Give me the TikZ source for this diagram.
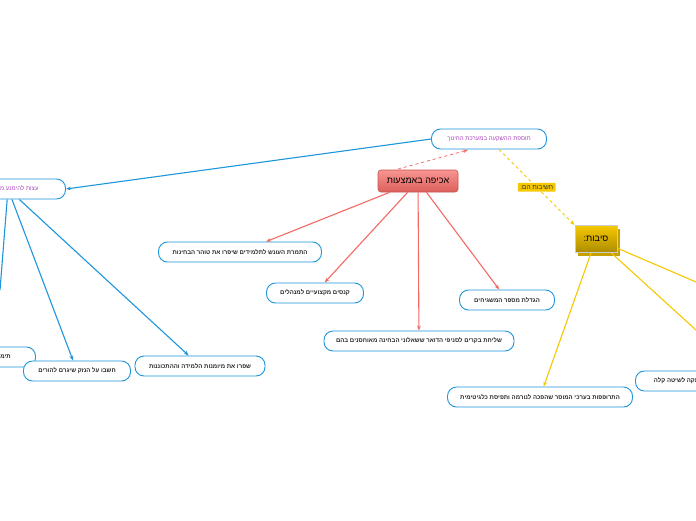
\documentclass[tikz,border=0pt]{standalone}
\usepackage{fontspec}
\setmainfont{Liberation Sans}
\TeXXeTstate=1
\usetikzlibrary{arrows.meta,shadows}
\definecolor{bl}{RGB}{30,150,220}
\definecolor{rd}{RGB}{245,105,100}
\definecolor{gd}{RGB}{245,200,0}
\definecolor{pu}{RGB}{170,70,190}
\tikzset{
 pill/.style={draw=bl,line width=0.9pt,rounded corners=9pt,minimum height=20pt,fill=white,font=\fontsize{6}{7}\selectfont\bfseries,text=black!85,inner sep=3pt},
 bla/.style={bl,line width=1.1pt,-{Stealth[length=5pt]}},
 rda/.style={rd,line width=1.1pt,-{Stealth[length=5pt]}},
 gda/.style={gd,line width=1.1pt,-{Stealth[length=5pt]}},
}
\newcommand{\he}[1]{\beginR #1\endR}
\begin{document}
\begin{tikzpicture}[x=1pt,y=-1pt]
\useasboundingbox (0,0) rectangle (696,520);
\clip (0,0) rectangle (696,520);
\fill[white] (0,0) rectangle (696,520);
\node[pill,minimum width=115pt,text=pu,font=\fontsize{6}{7}\selectfont] (top) at (489,139) {\he{תוספת ההשקעה במערכת החינוך}};
\node[draw=rd!80!black,line width=0.6pt,rounded corners=3pt,top color=rd!70,bottom color=rd!90!black,minimum width=80pt,minimum height=22pt,font=\fontsize{9}{10}\selectfont] (ak) at (418,181) {\he{אכיפה באמצעות}};
\node[draw=black!20,line width=1pt,top color=gd,bottom color=gd!70!black,minimum width=42pt,minimum height=27pt,font=\fontsize{9}{10}\selectfont,drop shadow={shadow xshift=3pt,shadow yshift=-3pt,fill=gd!80!black,opacity=1}] (sib) at (596,239) {\he{סיבות:}};
\node[pill,minimum width=115pt,text=pu,font=\fontsize{6}{7}\selectfont] (L) at (8,189) {\he{עצות להימנע מההעתקה}};
\node[pill,minimum width=163pt] (a1) at (240,252) {\he{התמרת העונש לתלמידים שיפרו את טוהר הבחינות}};
\node[pill,minimum width=97pt] (a2) at (315,293) {\he{קנסים מקצועיים למנהלים}};
\node[pill,minimum width=95pt] (a3) at (507,300) {\he{הגדלת מספר המשגיחים}};
\node[pill,minimum width=190pt] (a4) at (419,341) {\he{שליחת בקרים לסניפי הדואר ששאלוני הבחינה מאוחסנים בהם}};
\node[pill,minimum width=85pt] (b0) at (-7,357) {\he{תימנעו מלחץ}};
\node[pill,minimum width=107pt] (b1) at (77,371) {\he{חשבו על הנזק שיגרם להורים}};
\node[pill,minimum width=130pt] (b2) at (200,366) {\he{שפרו את מיומנות הלמידה וההתכוננות}};
\node[pill,minimum width=185pt] (c1) at (540,397) {\he{התרופפות בערכי המוסר שהפכה לנורמה ותפיסת כלגיטימית}};
\node[pill,minimum width=130pt,anchor=west] (c2) at (635,381) {\hspace*{-40pt}\he{העתקה לשיטה קלה}};
\coordinate (offL) at (0,290);
\coordinate (offR) at (696,282);
\coordinate (offR2) at (696,330);
\draw[bla] (top.west) -- (L.east);
\draw[rd,line width=0.8pt,dashed,-{Stealth[length=5pt]}] (398,169) -- (468,150);
\draw[gd,line width=0.8pt,dashed,-{Stealth[length=5pt]}] (top.south) ++(10,0) -- (sib.north west)
 node[pos=0.5,fill=gd,font=\fontsize{6.5}{7}\selectfont,inner sep=2.5pt,rounded corners=1pt,text=black!80] {\he{חשיבות הם:}};
\draw[rda] (ak) -- (a1);
\draw[rda] (ak) -- (a2);
\draw[rda] (ak) -- (a3);
\draw[rda] (ak) -- (a4);
\draw[bl,line width=1.1pt] (L) -- (offL);
\draw[bla] (L) -- (b1);
\draw[bla] (L) -- (b2);
\draw[gda] (sib) -- (c1);
\draw[gd,line width=1.1pt] (sib) -- (offR);
\draw[gd,line width=1.1pt] (sib) -- (offR2);
\end{tikzpicture}
\end{document}
